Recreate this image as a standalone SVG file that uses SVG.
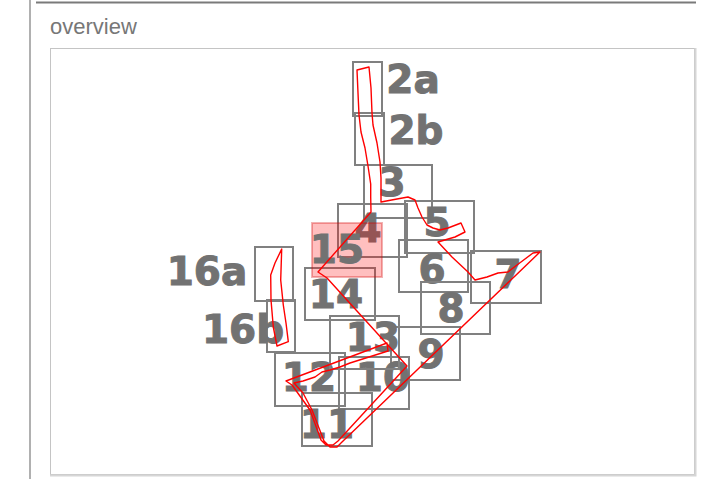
<svg xmlns="http://www.w3.org/2000/svg" width="722" height="479" viewBox="0 0 722 479">
<style>
.box{fill:none;stroke:#808080;stroke-width:2}
.hl{fill:#ff0000;fill-opacity:0.25;stroke:#d00000;stroke-opacity:0.3;stroke-width:2}
.lbl{font-family:"DejaVu Sans",sans-serif;font-weight:bold;font-size:39px;fill:#727272;stroke:#727272;stroke-width:1;text-anchor:middle}
.trk{fill:none;stroke:#ff0000;stroke-width:1.4;stroke-linejoin:round}
</style>
<rect width="722" height="479" fill="#ffffff"/>
<line x1="30" y1="0" x2="30" y2="479" stroke="#b0b0b0" stroke-width="2"/>
<line x1="36" y1="2.5" x2="696" y2="2.5" stroke="#7a7a7a" stroke-width="2"/>
<text x="50" y="34" font-family="Liberation Sans, sans-serif" font-size="22" fill="#777777">overview</text>
<rect x="50.5" y="48.5" width="644" height="426" fill="none" stroke="#c4c4c4" stroke-width="1"/>
<polyline points="695.5,48 695.5,475.5 50,475.5" fill="none" stroke="#d6d6d6" stroke-width="2"/>
<g id="nodes">
<g id="n2a"><rect class="box" x="353" y="62" width="29" height="54"/><text class="lbl" x="413" y="93">2a</text></g>
<g id="n2b"><rect class="box" x="355" y="113" width="29" height="52"/><text class="lbl" x="416" y="144">2b</text></g>
<g id="n3"><rect class="box" x="364" y="165" width="68" height="53"/><text class="lbl" x="392" y="196">3</text></g>
<g id="n4"><rect class="box" x="338" y="204" width="69" height="53"/><text class="lbl" x="368" y="242">4</text></g>
<g id="n5"><rect class="box" x="405" y="201" width="69" height="52"/><text class="lbl" x="437" y="236">5</text></g>
<g id="n6"><rect class="box" x="399" y="240" width="69" height="52"/><text class="lbl" x="432" y="283">6</text></g>
<g id="n7"><rect class="box" x="471" y="251" width="70" height="52"/><text class="lbl" x="508" y="288">7</text></g>
<g id="n8"><rect class="box" x="421" y="282" width="69" height="52"/><text class="lbl" x="451" y="322">8</text></g>
<g id="n9"><rect class="box" x="391" y="327" width="69" height="53"/><text class="lbl" x="431" y="368">9</text></g>
<g id="n10"><rect class="box" x="339" y="357" width="70" height="52"/><text class="lbl" x="383" y="391">10</text></g>
<g id="n11"><rect class="box" x="302" y="393" width="70" height="53"/><text class="lbl" x="327" y="438">11</text></g>
<g id="n12"><rect class="box" x="275" y="353" width="70" height="53"/><text class="lbl" x="309" y="391">12</text></g>
<g id="n13"><rect class="box" x="330" y="316" width="69" height="53"/><text class="lbl" x="373" y="351">13</text></g>
<g id="n14"><rect class="box" x="305" y="268" width="70" height="52"/><text class="lbl" x="336" y="308">14</text></g>
<g id="n16a"><rect class="box" x="255" y="247" width="38" height="54"/><text class="lbl" x="207" y="285">16a</text></g>
<g id="n16b"><rect class="box" x="267" y="300" width="28" height="52"/><text class="lbl" x="243" y="343">16b</text></g>
<g id="n15"><rect class="hl" x="312" y="223" width="70" height="54"/><text class="lbl" x="337" y="263">15</text></g>
</g>
<g id="connectors">
<path class="trk" d="M357,70 L358,93 L359,115 L361,132 L365,148 L368,166 L370.7,184 L370.7,197 L371,212 L318,272 L327,278 L386,343 L407,366 L338,441 L333,445 L326,445 L321,440 L310,410 L292,385 L286,381 L387,343 L388,351 L350,363 L340,367 L330,370 L322,372 L315,377 L303,381 L294,383 L303,393 L312,410 L324,441 L330,447 L337,447 L342,442 L540,252 L533,253 L517,265 L508,272 L498,273 L487,277 L475,280 L468,272 L452,257 L438,242 L455,237 L465,232 L461,223 L448,228 L440,230 L433,228 L427,225 L422,217 L418,208 L415,200 L408,197 L397,199 L381,202 L381,178 L380,162 L377,143 L373,125 L372,113 L371,88 L369,67 Z"/>
<path class="trk" d="M281.7,249 L275,263 L270.7,275 L271,300 L273.3,327 L277,346 L288.3,341.7 L286,323 L283.3,305 L280.7,280 Z"/>
</g>
</svg>
